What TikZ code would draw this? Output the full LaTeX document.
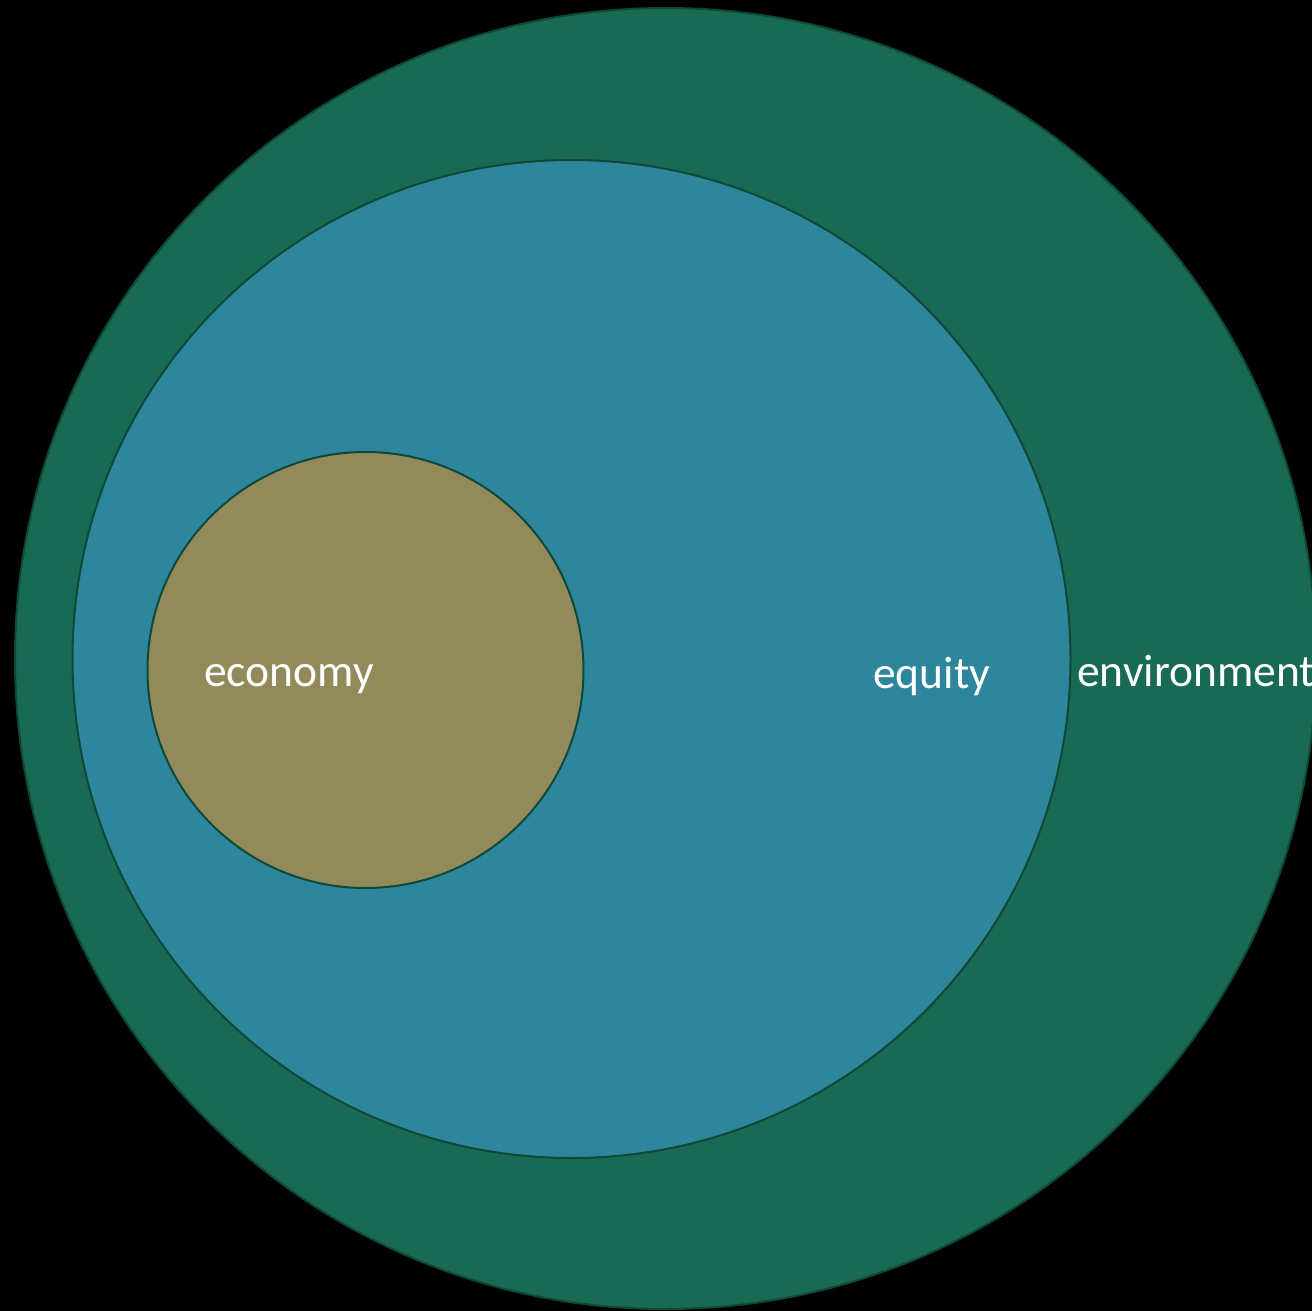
\documentclass[tikz,border=0pt]{standalone}
\usepackage{fontspec}
\setmainfont{Carlito}
\definecolor{bgblack}{RGB}{0,0,0}
\definecolor{envgreen}{RGB}{24,106,84}
\definecolor{eqblue}{RGB}{46,134,156}
\definecolor{ecoolive}{RGB}{147,138,92}
\definecolor{rimgreen}{RGB}{14,72,56}
\begin{document}
\begin{tikzpicture}[x=1pt,y=-1pt,
  ring/.style={circle,draw=rimgreen,line width=2pt,inner sep=0pt},
  lbl/.style={text=white,font=\fontsize{45.5}{50}\selectfont,inner sep=0pt,anchor=base west}]
\fill[bgblack] (0,0) rectangle (1312,1311);
\useasboundingbox (0,0) rectangle (1312,1311);
\node[ring,fill=envgreen,minimum size=1301pt] (env) at (665.5,658.5) {};
\node[ring,fill=eqblue,minimum size=998pt] (eq) at (571.5,659) {};
\node[ring,fill=ecoolive,minimum size=436pt] (eco) at (365.5,670) {};
\node[lbl] (ecot) at (204,686) {economy};
\node[lbl] (eqt) at (873,688) {equity};
\node[lbl] (envt) at (1077,686) {environment};
\end{tikzpicture}
\end{document}
